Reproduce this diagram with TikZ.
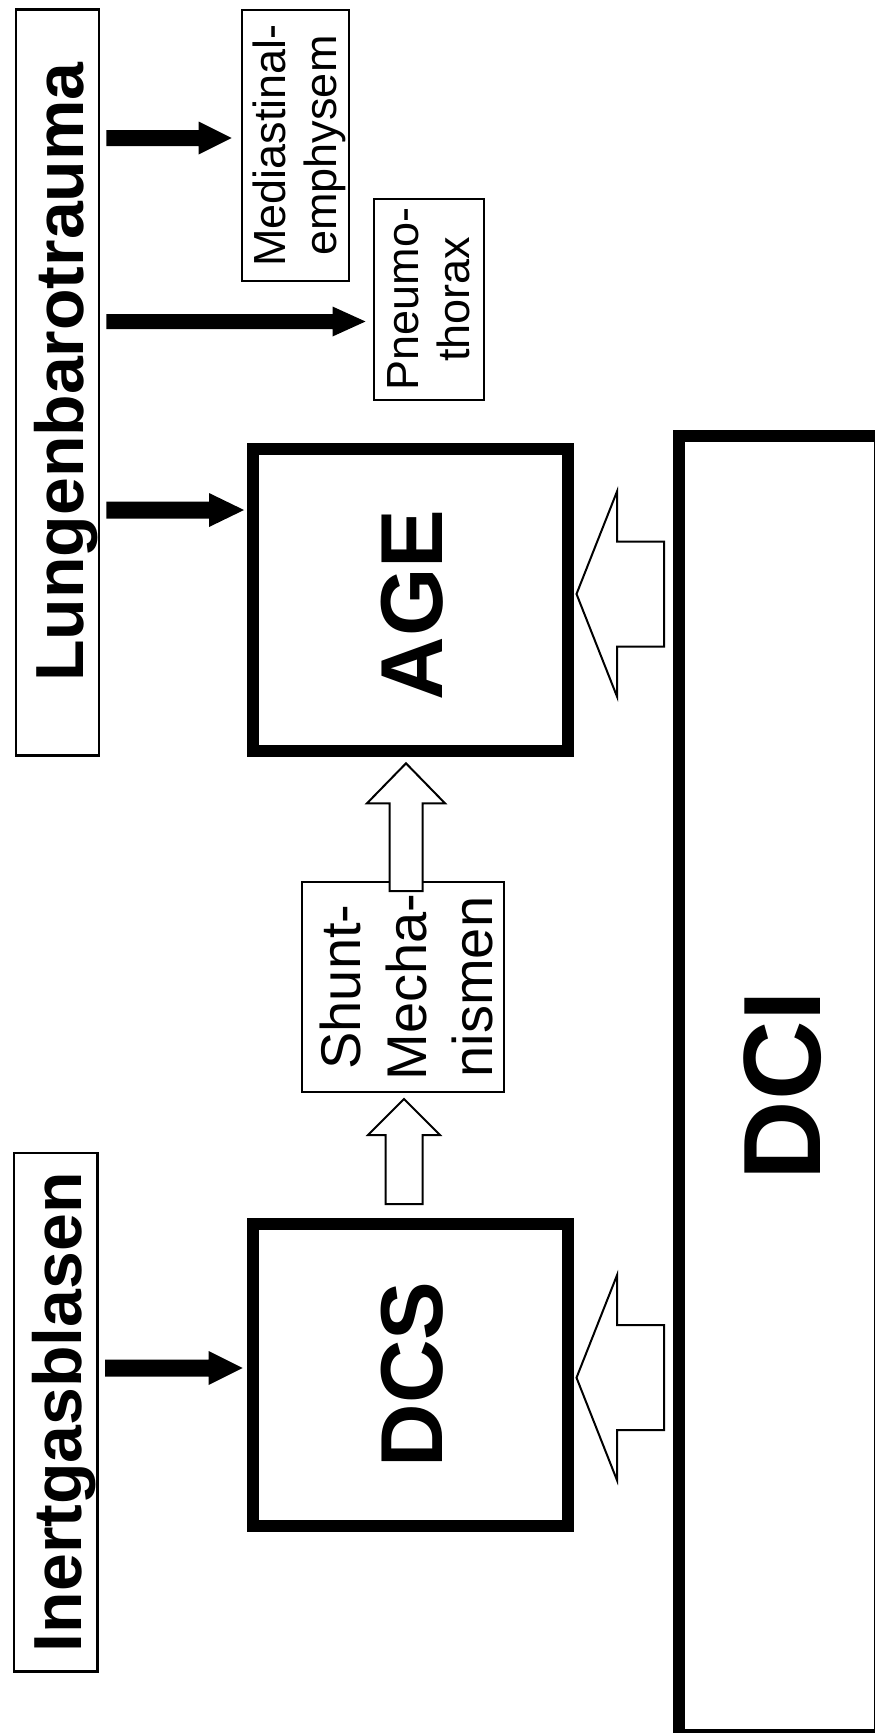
\documentclass[tikz,border=0pt]{standalone}
\usepackage{fontspec}
\setmainfont{Liberation Sans}
\usetikzlibrary{calc}
\newcommand\blkright[5]{\fill[black] let \p1=(#1), \p2=(#2) in (\x1,\y1+#3) -- (\x2-#5,\y1+#3) -- (\x2-#5,\y1+#4) -- (\x2,\y1) -- (\x2-#5,\y1-#4) -- (\x2-#5,\y1-#3) -- (\x1,\y1-#3) -- cycle;}
\newcommand\opnleft[5]{\draw[opn] let \p1=(#1), \p2=(#2) in (\x1,\y1+#3) -- (\x2+#5,\y1+#3) -- (\x2+#5,\y1+#4) -- (\x2,\y1) -- (\x2+#5,\y1-#4) -- (\x2+#5,\y1-#3) -- (\x1,\y1-#3) -- cycle;}
\newcommand\opnup[5]{\draw[opn] let \p1=(#1), \p2=(#2) in (\x1-#3,\y1) -- (\x1-#3,\y2-#5) -- (\x1-#4,\y2-#5) -- (\x1,\y2) -- (\x1+#4,\y2-#5) -- (\x1+#3,\y2-#5) -- (\x1+#3,\y1) -- cycle;}
\begin{document}
\begin{tikzpicture}[x=1pt,y=-1pt,
  box/.style={draw=black, rotate=90, inner sep=0pt, outer sep=0pt, align=center},
  lbox/.style={box, line width=2.5pt, font=\fontsize{68}{80}\selectfont\bfseries, text height=52.4pt, text depth=0pt},
  sbox/.style={box, line width=2pt, font=\fontsize{45}{51}\selectfont, text depth=10pt},
  shbox/.style={box, line width=2pt, font=\fontsize{56}{66}\selectfont, text height=188pt, text depth=10pt},
  bigbox/.style={box, line width=12pt, font=\fontsize{88}{100}\selectfont\bfseries, text height=64pt, text depth=0pt},
  opn/.style={draw=black, fill=white, line width=2pt, line join=miter}
]
\useasboundingbox (0,0) rectangle (875,1733);
\clip (0,0) rectangle (875,1733);
\fill[white] (0,0) rectangle (875,1733);

\node[lbox, minimum width=745.8pt, minimum height=82.6pt] (lungen) at (57.5,382.6) {\hspace*{21pt}Lungenbarotrauma};
\node[lbox, text height=51.7pt, minimum width=518.5pt, minimum height=83.7pt] (inert) at (55.85,1412.25) {Inertgasblasen};
\node[sbox, text height=92pt, minimum width=271pt, minimum height=107pt] (med) at (295,145.5) {Mediastinal-\\emphysem};
\node[sbox, text height=90.5pt, minimum width=200.5pt, minimum height=109.5pt] (pneu) at (428.75,299.25) {Pneumo-\\thorax};
\node[shbox, minimum width=210pt, minimum height=202pt] (shunt) at (403,987) {Shunt-\\Mecha-\\nismen};
\node[bigbox, minimum width=302pt, minimum height=315pt] (age) at (410.5,599.7) {AGE\hspace*{10pt}};
\node[bigbox, minimum width=302.2pt, minimum height=315pt] (dcs) at (410.5,1374.6) {DCS};
\node[bigbox, font=\fontsize{110}{120}\selectfont\bfseries, text height=81.3pt, minimum width=1299pt, minimum height=201.3pt] (dci) at (779.35,1085.5) {DCI};

% solid arrows
\blkright{$(lungen.south |- 0,138)+(7.5,0)$}{$(med.north |- 0,138)+(-9.9,0)$}{8pt}{16.5pt}{33pt}
\blkright{$(lungen.south |- 0,321.5)+(7.5,0)$}{$(pneu.north |- 0,321.5)+(-8.5,0)$}{7.5pt}{15pt}{33pt}
\blkright{$(lungen.south |- 0,510)+(7.5,0)$}{$(age.north |- 0,510)+(-9,0)$}{8.5pt}{17pt}{35pt}
\blkright{$(inert.south |- 0,1368)+(7.5,0)$}{$(dcs.north |- 0,1368)+(-10.3,0)$}{8.5pt}{17pt}{34pt}

% open arrows
\opnleft{$(dci.north |- 0,594)+(-14.7,0)$}{$(age.south |- 0,594)+(8.5,0)$}{52.5pt}{102.5pt}{40.5pt}
\opnleft{$(dci.north |- 0,1377.7)+(-14.7,0)$}{$(dcs.south |- 0,1377.7)+(8.5,0)$}{52.5pt}{102.5pt}{40.5pt}
\opnup{$(dcs.east)+(-6.5,-19.5)$}{$(shunt.west)+(1,7)$}{18.5pt}{36pt}{36pt}
\opnup{$(shunt.east)+(3,9)$}{$(age.west)+(-4.5,12.6)$}{16.5pt}{39pt}{40pt}
\end{tikzpicture}
\end{document}
